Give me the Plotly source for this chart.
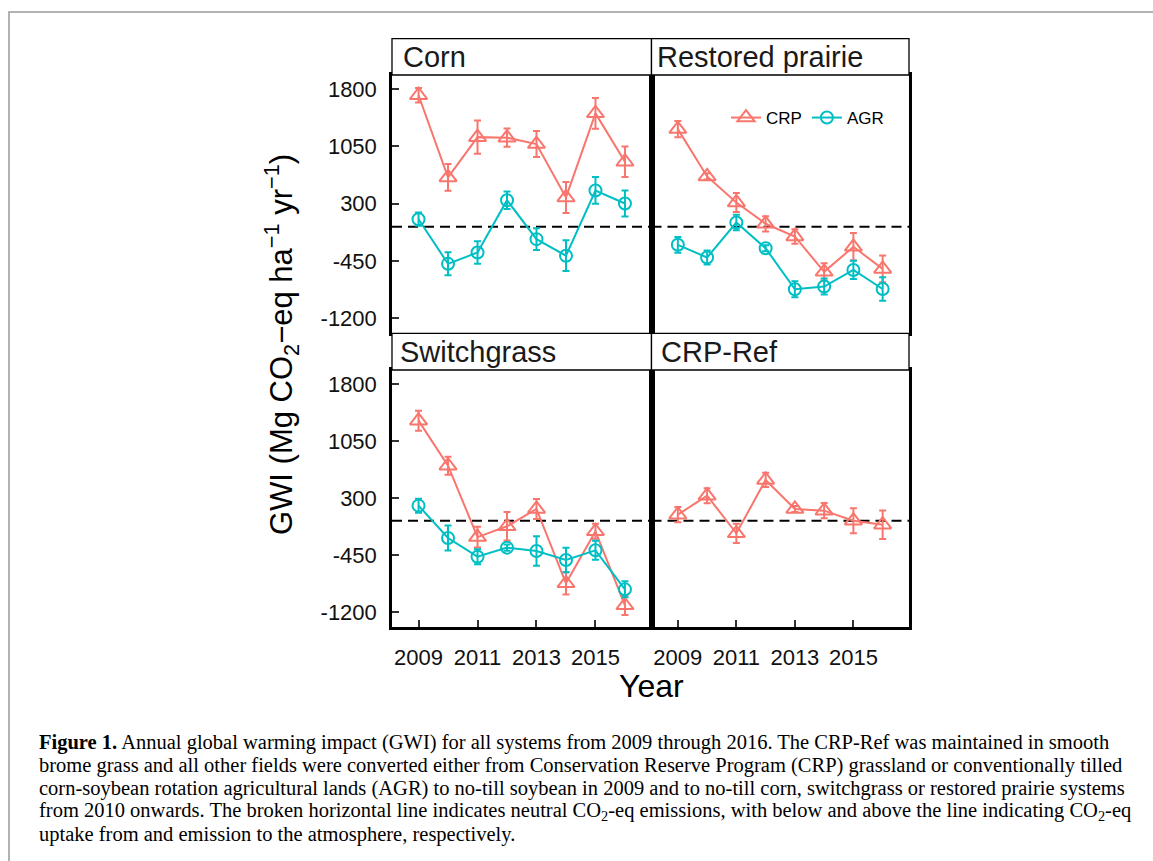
import plotly.graph_objects as go

W, H = 1153, 861

years = [2009, 2010, 2011, 2012, 2013, 2014, 2015, 2016]

# Corn
corn_crp = [1720, 645, 1172, 1165, 1081, 383, 1483, 850]
corn_crp_se = [96, 175, 218, 120, 170, 203, 201, 201]
corn_agr = [98, -486, -338, 347, -163, -380, 474, 304]
corn_agr_se = [87, 151, 146, 114, 142, 201, 175, 170]

# Restored prairie
prairie_crp = [1277, 658, 317, 38, -128, -591, -263, -552]
prairie_crp_se = [105, 40, 124, 100, 96, 114, 179, 175]
prairie_agr = [-237, -403, 55, -282, -819, -783, -566, -815]
prairie_agr_se = [103, 92, 100, 40, 105, 105, 120, 153]

# Switchgrass
switch_crp = [1318, 725, -215, -73, 155, -824, -139, -1113]
switch_crp_se = [132, 118, 136, 187, 132, 147, 99, 127]
switch_agr = [199, -227, -473, -354, -398, -517, -389, -903]
switch_agr_se = [92, 165, 99, 40, 193, 160, 125, 105]

# CRP-Ref
ref_crp = [80, 330, -165, 537, 155, 133, 1, -52]
ref_crp_se = [100, 99, 127, 94, 40, 101, 165, 187]

y_ticks = [-1200, -450, 300, 1050, 1800]
x_ticks = [2009, 2011, 2013, 2015]

CRP_COLOR = "#F8766D"
AGR_COLOR = "#00BFC4"
FONT = "Liberation Sans, Arial, sans-serif"

# panel boxes in pixels (left, right, top, bottom)
left_x = (392, 651.5)
right_x = (651.5, 909)
top_y = (75, 333.3)
bot_y = (370, 626.7)


def xdom(px):
    return [px[0] / W, px[1] / W]


def ydom(py):
    return [1 - py[1] / H, 1 - py[0] / H]


fig = go.Figure()


def add_series(values, errors, color, symbol, size, name, axis, legend):
    fig.add_trace(go.Scatter(
        x=years, y=values,
        mode="lines+markers",
        name=name,
        showlegend=legend,
        line=dict(color=color, width=2),
        marker=dict(symbol=symbol, size=size, color=color,
                    line=dict(color=color, width=2)),
        error_y=dict(type="data", array=errors, visible=True,
                     color=color, thickness=2, width=3.5),
        xaxis="x" + axis, yaxis="y" + axis,
    ))


add_series(corn_crp, corn_crp_se, CRP_COLOR, "triangle-up-open", 15, "CRP", "", True)
add_series(corn_agr, corn_agr_se, AGR_COLOR, "circle-open", 12, "AGR", "", True)
add_series(prairie_crp, prairie_crp_se, CRP_COLOR, "triangle-up-open", 15, "CRP", "2", False)
add_series(prairie_agr, prairie_agr_se, AGR_COLOR, "circle-open", 12, "AGR", "2", False)
add_series(switch_crp, switch_crp_se, CRP_COLOR, "triangle-up-open", 15, "CRP", "3", False)
add_series(switch_agr, switch_agr_se, AGR_COLOR, "circle-open", 12, "AGR", "3", False)
add_series(ref_crp, ref_crp_se, CRP_COLOR, "triangle-up-open", 15, "CRP", "4", False)

x_range = [2008.1, 2016.9]
y_range = [-1395, 1985]


def xaxis(dom, labels, anchor):
    d = dict(domain=xdom(dom), range=x_range, anchor=anchor,
             showgrid=False, zeroline=False, showline=True, mirror=True,
             linecolor="black", linewidth=2.5,
             tickvals=x_ticks, ticktext=[str(t) for t in x_ticks],
             tickfont=dict(family=FONT, size=22, color="#111"))
    if labels:
        d.update(ticks="inside", ticklen=7, tickwidth=1.5, tickcolor="#333",
                 showticklabels=True, ticklabelstandoff=9)
    else:
        d.update(ticks="", showticklabels=False)
    return d


def yaxis(dom, labels, anchor):
    d = dict(domain=ydom(dom), range=y_range, anchor=anchor,
             showgrid=False, zeroline=False, showline=True, mirror=True,
             linecolor="black", linewidth=2.5,
             tickvals=y_ticks, ticktext=[str(t) for t in y_ticks],
             tickfont=dict(family=FONT, size=22, color="#111"))
    if labels:
        d.update(ticks="inside", ticklen=7, tickwidth=1.5, tickcolor="#333",
                 showticklabels=True, ticklabelstandoff=8)
    else:
        d.update(ticks="", showticklabels=False)
    return d


shapes = []
# outer frame of the figure page
shapes.append(dict(type="rect", xref="paper", yref="paper",
                   x0=9 / W, x1=1.02, y0=-0.02, y1=1 - 12 / H,
                   line=dict(color="#999", width=1.5), fillcolor="rgba(0,0,0,0)"))

# dashed neutral lines
for ax in ["", "2", "3", "4"]:
    shapes.append(dict(type="line", xref="x%s domain" % ax, yref="y" + ax,
                       x0=0, x1=1, y0=0, y1=0, layer="below",
                       line=dict(color="black", width=2, dash="10px,6px")))

# facet strips
strips = [
    (left_x, (38.7, 75), "Corn", 401),
    (right_x, (38.7, 75), "Restored prairie", 655),
    (left_x, (333.3, 370), "Switchgrass", 398),
    (right_x, (333.3, 370), "CRP-Ref", 659),
]
annotations = []
for (sx, sy, label, tx) in strips:
    shapes.append(dict(type="rect", xref="paper", yref="paper",
                       x0=sx[0] / W, x1=sx[1] / W,
                       y0=1 - sy[1] / H, y1=1 - sy[0] / H,
                       line=dict(color="black", width=1.3), fillcolor="white"))
    annotations.append(dict(text=label, xref="paper", yref="paper",
                            x=tx / W, y=1 - (sy[0] + sy[1]) / 2 / H,
                            xanchor="left", yanchor="middle", showarrow=False,
                            font=dict(family=FONT, size=29, color="#1a1a1a")))

# axis titles
annotations.append(dict(
    text="GWI (Mg CO<sub>2</sub>\u2212eq ha<sup>\u22121</sup> yr<sup>\u22121</sup>)",
    xref="paper", yref="paper", x=281 / W, y=1 - 345 / H, textangle=-90,
    xanchor="center", yanchor="middle", showarrow=False,
    font=dict(family=FONT, size=31, color="black")))
annotations.append(dict(
    text="Year", xref="paper", yref="paper", x=651 / W, y=1 - 686 / H,
    xanchor="center", yanchor="middle", showarrow=False,
    font=dict(family=FONT, size=32, color="black")))

# caption
caption = [
    "<b>Figure 1.</b> Annual global warming impact (GWI) for all systems from 2009 through 2016. The CRP-Ref was maintained in smooth",
    "brome grass and all other fields were converted either from Conservation Reserve Program (CRP) grassland or conventionally tilled",
    "corn-soybean rotation agricultural lands (AGR) to no-till soybean in 2009 and to no-till corn, switchgrass or restored prairie systems",
    "from 2010 onwards. The broken horizontal line indicates neutral CO<sub>2</sub>-eq emissions, with below and above the line indicating CO<sub>2</sub>-eq",
    "uptake from and emission to the atmosphere, respectively.",
]
for i, line in enumerate(caption):
    annotations.append(dict(
        text=line, xref="paper", yref="paper", x=37 / W, y=1 - (742 + 23 * i) / H,
        xanchor="left", yanchor="middle", showarrow=False,
        font=dict(family="Liberation Serif, Times New Roman, serif", size=20.5, color="black")))

fig.update_layout(
    width=W, height=H,
    margin=dict(l=0, r=0, t=0, b=0),
    paper_bgcolor="white", plot_bgcolor="white",
    xaxis=xaxis(left_x, False, "y"),
    yaxis=yaxis(top_y, True, "x"),
    xaxis2=xaxis(right_x, False, "y2"),
    yaxis2=yaxis(top_y, False, "x2"),
    xaxis3=xaxis(left_x, True, "y3"),
    yaxis3=yaxis(bot_y, True, "x3"),
    xaxis4=xaxis(right_x, True, "y4"),
    yaxis4=yaxis(bot_y, False, "x4"),
    shapes=shapes,
    annotations=annotations,
    legend=dict(orientation="h", x=726 / W, y=1 - 118 / H,
                xanchor="left", yanchor="middle",
                bgcolor="rgba(0,0,0,0)", itemwidth=30,
                font=dict(family=FONT, size=17, color="black")),
)

fig.write_html("out.html", config={"displayModeBar": False},
               post_script="document.body.style.margin='0px';")
